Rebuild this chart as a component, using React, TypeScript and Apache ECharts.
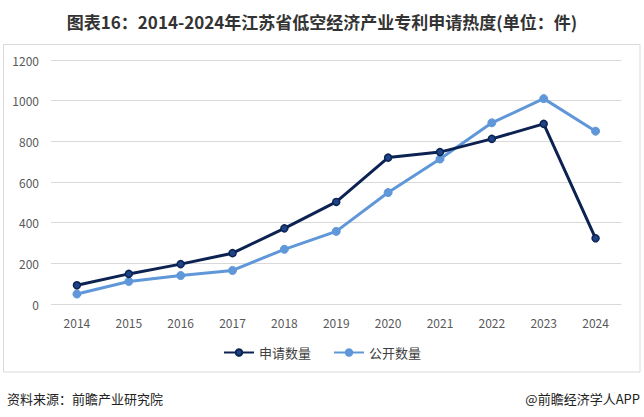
import React, { useEffect, useRef } from "react";
import * as echarts from "echarts";

const years = ["2014", "2015", "2016", "2017", "2018", "2019", "2020", "2021", "2022", "2023", "2024"];
const applyCounts = [92, 148, 196, 250, 372, 502, 720, 747, 812, 886, 323];
const publishCounts = [49, 111, 140, 165, 269, 357, 548, 713, 891, 1010, 850];
const seriesNames = ["申请数量", "公开数量"];
const titleText = "图表16：2014-2024年江苏省低空经济产业专利申请热度(单位：件)";
const sourceText = "资料来源：前瞻产业研究院";
const brandText = "@前瞻经济学人APP";

export default function App() {
  const ref = useRef<HTMLDivElement>(null);
  useEffect(() => {
    document.body.style.margin = "0";
    const chart = echarts.init(ref.current!, null, { renderer: "svg" });
    const font = "'Noto Sans CJK SC', 'Noto Sans', sans-serif";
    chart.setOption({
      animation: false,
      backgroundColor: "#ffffff",
      textStyle: { fontFamily: font },
      title: {
        text: titleText,
        left: "center",
        top: 8,
        textStyle: { fontSize: 17, fontWeight: "bold", color: "#333333", fontFamily: font },
      },
      grid: { left: 51, right: 22.5, top: 60, bottom: 113, containLabel: false },
      legend: {
        data: seriesNames,
        left: "center",
        top: 341,
        itemWidth: 30,
        itemHeight: 8,
        itemGap: 22,
        textStyle: { fontSize: 13, color: "#404040", fontFamily: font },
      },
      xAxis: {
        type: "category",
        data: years,
        boundaryGap: true,
        axisLine: { show: false },
        axisTick: { show: false },
        axisLabel: { color: "#595959", fontSize: 12, margin: 12 },
      },
      yAxis: {
        type: "value",
        min: 0,
        max: 1200,
        interval: 200,
        axisLine: { show: false },
        axisTick: { show: false },
        axisLabel: { color: "#595959", fontSize: 12, margin: 12, formatter: (v: number) => String(v) },
        splitLine: { lineStyle: { color: "#d9d9d9", width: 1 } },
      },
      series: [
        {
          name: seriesNames[0],
          type: "line",
          data: applyCounts,
          symbol: "circle",
          symbolSize: 7,
          lineStyle: { color: "#0c2352", width: 3 },
          itemStyle: { color: "#1d4486", borderColor: "#0c2352", borderWidth: 1.5 },
          z: 3,
        },
        {
          name: seriesNames[1],
          type: "line",
          data: publishCounts,
          symbol: "circle",
          symbolSize: 8,
          lineStyle: { color: "#5f97d9", width: 3 },
          itemStyle: { color: "#5f97d9", borderColor: "#5f97d9", borderWidth: 1 },
          z: 2,
        },
      ],
      graphic: [
        {
          type: "rect",
          shape: { x: 3.5, y: 44.5, width: 636.5, height: 327.5 },
          style: { fill: "none", stroke: "#d9d9d9", lineWidth: 1 },
          silent: true,
          z: -1,
        },
        {
          type: "text",
          left: 7,
          top: 392,
          style: { text: sourceText, fontSize: 13, fill: "#222222", fontFamily: font },
        },
        {
          type: "text",
          right: 4,
          top: 392,
          style: { text: brandText, fontSize: 13, fill: "#222222", fontFamily: font },
        },
      ],
    });
    return () => chart.dispose();
  }, []);
  return <div ref={ref} style={{ width: 644, height: 417 }} />;
}
